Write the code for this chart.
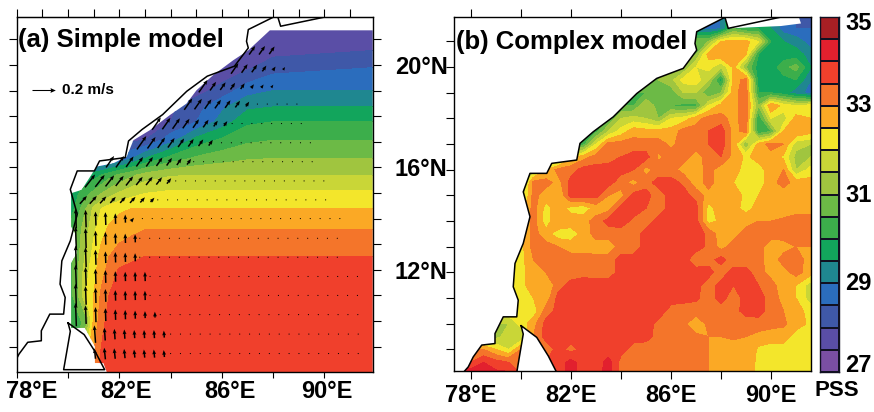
import numpy as np, seaborn as sns, matplotlib
matplotlib.use('Agg')
import matplotlib.pyplot as plt
from matplotlib.colors import ListedColormap, BoundaryNorm
from matplotlib.patches import Polygon

sns.set_style('white')
plt.rcParams['font.family'] = ['Liberation Sans', 'DejaVu Sans']
plt.rcParams['font.weight'] = 'bold'
plt.rcParams['text.color'] = 'k'
plt.rcParams['xtick.color'] = 'k'
plt.rcParams['ytick.color'] = 'k'

# colour scale, PSS
levels = [27, 27.5, 28, 28.5, 29, 29.5, 30, 30.5, 31, 31.5, 32, 32.5, 33, 33.5, 34, 34.5, 35]
colors = ['#7a4fa3', '#5a4ea6', '#3f58a8', '#2b6dbd', '#1f8790', '#12a55c', '#3cae4b', '#6cba46',
          '#a0c53f', '#c9d637', '#f3e62b', '#fba925', '#f4752a', '#f0402c', '#e2202e', '#a81f24']
cbar_labels = [35, 33, 31, 29, 27]

# coast shared by both panels
coast_lon = [90.36, 88.29, 88.16, 87.03, 86.96, 87.03, 86.49, 85.43, 84.63, 83.69, 82.89, 82.36, 82.23,
             81.23, 81.03, 80.36, 80.09, 80.36, 80.09, 79.76, 79.69, 79.89, 79.83, 79.29, 78.96, 78.96,
             78.43, 78.09, 77.89, 77.69]
coast_lat = [21.94, 21.51, 21.94, 21.38, 20.92, 20.66, 19.95, 19.56, 18.97, 18.06, 17.48, 17.03, 16.38,
             16.25, 15.86, 15.86, 15.14, 14.17, 13.13, 12.35, 11.44, 10.92, 10.27, 10.27, 9.62, 9.23,
             9.17, 8.71, 8.32, 8.1]
lanka_lon = [80.0, 80.63, 81.09, 81.43, 79.83, 80.09, 80.0]
lanka_lat = [9.93, 9.47, 8.75, 8.1, 8.1, 9.6, 9.93]
# unfilled sea under the head of the bay in (b)
mouth_lon = [88.29, 90.4, 91.2, 91.1, 90.36]
mouth_lat = [21.51, 21.6, 21.7, 22, 21.94]

# (a) simple model, salinity on a stretched grid
a_lon = [80.1, 80.4, 80.7, 81, 81.3, 81.6, 82, 82.5, 83, 84, 85, 86, 87, 88, 92]
a_lat = [8, 10, 11, 12, 12.52, 13.56, 14.4, 15.1, 15.7, 16.35, 17.06, 17.78, 18.36, 19, 19.9, 20.57, 21.35, 21.9]
a_sal = [
    [30.3, 30.6, 32.6, 33.2, 33.7, 33.8, 33.8, 33.8, 33.8, 33.8, 33.8, 33.8, 33.8, 33.8, 33.8],
    [30.3, 30.3, 30.8, 32.6, 33.3, 33.7, 33.8, 33.8, 33.8, 33.8, 33.8, 33.8, 33.8, 33.8, 33.8],
    [30.3, 31.0, 32.0, 32.5, 33.1, 33.5, 33.7, 33.8, 33.8, 33.8, 33.8, 33.8, 33.8, 33.8, 33.8],
    [30.3, 31.0, 31.8, 32.3, 32.8, 33.15, 33.55, 33.7, 33.75, 33.8, 33.8, 33.8, 33.8, 33.8, 33.8],
    [30.3, 30.9, 31.6, 32.2, 32.7, 33.0, 33.2, 33.35, 33.5, 33.5, 33.5, 33.5, 33.5, 33.5, 33.5],
    [30.3, 30.8, 31.3, 31.9, 32.3, 32.6, 32.8, 32.9, 33.0, 33.0, 33.0, 33.0, 33.0, 33.0, 33.0],
    [29.7, 30.3, 31.0, 31.6, 32.0, 32.2, 32.4, 32.5, 32.5, 32.5, 32.5, 32.5, 32.5, 32.5, 32.5],
    [29.6, 29.9, 30.2, 30.5, 30.8, 31.1, 31.4, 31.7, 31.9, 32.0, 32.0, 32.0, 32.0, 32.0, 32.0],
    [29.0, 29.2, 29.5, 29.8, 30.0, 30.3, 30.6, 30.9, 31.2, 31.45, 31.5, 31.5, 31.5, 31.5, 31.5],
    [28.0, 28.0, 28.0, 28.0, 28.0, 28.2, 28.5, 29.0, 29.5, 30.2, 30.6, 30.8, 30.95, 31.0, 31.0],
    [27.9, 27.9, 27.9, 27.9, 27.9, 27.9, 27.9, 27.9, 28.0, 28.8, 29.7, 30.1, 30.4, 30.5, 30.5],
    [27.8, 27.8, 27.8, 27.8, 27.8, 27.8, 27.8, 27.8, 27.8, 28.0, 28.5, 29.2, 29.9, 30.0, 30.0],
    [27.8, 27.8, 27.8, 27.8, 27.8, 27.8, 27.8, 27.8, 27.8, 27.9, 28.3, 28.9, 29.4, 29.5, 29.5],
    [27.8, 27.8, 27.8, 27.8, 27.8, 27.8, 27.8, 27.8, 27.8, 27.8, 27.8, 28.2, 28.8, 29.0, 29.0],
    [27.6, 27.6, 27.6, 27.6, 27.6, 27.6, 27.6, 27.6, 27.6, 27.6, 27.6, 27.6, 27.9, 28.3, 28.5],
    [27.6, 27.6, 27.6, 27.6, 27.6, 27.6, 27.6, 27.6, 27.6, 27.6, 27.6, 27.6, 27.6, 27.8, 28.0],
    [27.6, 27.6, 27.6, 27.6, 27.6, 27.6, 27.6, 27.6, 27.6, 27.6, 27.6, 27.6, 27.6, 27.6, 27.6],
    [27.5, 27.5, 27.5, 27.5, 27.5, 27.5, 27.5, 27.5, 27.5, 27.5, 27.5, 27.5, 27.5, 27.5, 27.5],
]
# edge of the coloured model domain in (a)
domain_lon = [91.88, 87.87, 87.03, 86.44, 85.66, 85.01, 84.62, 83.97, 83.19, 82.55, 82.29, 81.77, 81.12, 80.53,
              80.12, 80.12, 80.27, 80.34, 80.12, 80.12, 80.66, 81.05, 81.05, 81.38, 81.51, 91.88]
domain_lat = [21.35, 21.35, 20.57, 20.18, 19.6, 19.01, 18.49, 18.04, 17.45, 17.06, 16.42, 16.16, 16.03, 15.12,
              14.99, 13.69, 13.43, 12.65, 12.26, 9.73, 9.73, 9.01, 8.36, 8.36, 8.01, 8.01]

# (a) currents: one entry per run of arrows, speed in m/s, heading in degrees from east
arrow_spacing = 0.385
arrow_lat = [20.57, 19.86, 19.17, 18.47, 17.71, 16.96, 16.22, 15.47, 14.73, 14.0, 14.0, 13.23, 12.49, 11.74, 11.0,
             10.25, 9.49, 8.73]
arrow_lon0 = [87.18, 86.5, 85.27, 84.69, 83.45, 82.87, 81.64, 80.86, 80.6, 80.31, 82.48, 80.31, 80.31, 80.31, 80.31,
              80.31, 81.05, 81.05]
arrow_heading = [55, 55, 55, 55, 55, 55, 55, 52, 48, 92, 50, 92, 92, 92, 92, 92, 94, 96]
arrow_speed = [
    [.09, .09, .08],
    [.11, .09, .08, .06, .04, .03],
    [.13, .09, .08, .07, .06, .04, .035, .03],
    [.12, .11, .10, .09, .08, .07, .05],
    [.13, .12, .11, .10, .09, .08, .06, .05],
    [.14, .12, .11, .10, .09, .08, .07, .06],
    [.12, .12, .11, .10, .10, .09, .08, .07, .06],
    [.14, .13, .12, .11, .10, .09, .09, .08, .06],
    [.09, .09, .08, .07, .07, .07, .06, .05],
    [.17, .15, .12, .11, .09, .07],
    [.04],
    [.20, .17, .13, .11, .09, .08, .07],
    [.20, .17, .13, .10, .09, .08, .07],
    [.20, .16, .13, .11, .09, .08, .08, .08],
    [.20, .16, .13, .11, .09, .08, .08, .08],
    [.20, .16, .13, .11, .09, .08, .07, .06, .05],
    [.15, .11, .09, .08, .07, .07, .07, .06],
    [.09, .10, .09, .08, .07, .07, .07, .06],
]
# rows of near-still vectors east of the arrows (first and last longitude)
dot_lat = [18.47, 17.71, 16.96, 16.22, 15.47, 14.73, 14.0, 13.23, 12.49, 11.74, 11.0, 10.25, 9.49, 8.73]
dot_lon0 = [87.0, 86.4, 85.6, 84.9, 84.2, 83.5, 82.9, 82.8, 82.8, 83.2, 83.2, 83.6, 84.0, 84.0]
dot_lon1 = [89.0, 89.3, 89.7, 89.8, 90.1, 90.4, 90.8, 90.8, 90.8, 91.6, 91.6, 91.6, 91.6, 91.6]
dot_speed = 0.007

# (b) complex model, land cells only repeat the nearest sea value and get covered
b_lon = [77.3, 78, 78.5, 79, 79.5, 80, 80.5, 81, 81.5, 82, 82.5, 83, 83.5, 84, 84.5, 85, 85.5, 86, 86.5, 87, 87.5,
         88, 88.5, 89, 89.5, 90, 90.5, 91, 91.6]
b_lat = [22, 21.5, 21, 20.5, 20, 19.5, 19, 18.5, 18, 17.5, 17, 16.5, 16, 15.5, 15, 14.5, 14, 13.5, 13, 12.5, 12,
         11.5, 11, 10.5, 10, 9.5, 9, 8.5, 8]
b_sal = [
    [29] * 20 + [28.75, 29, 30.5, 30, 30, 29.5, 28.75, 28.5, 28.5],
    [29] * 20 + [28.75, 29, 30.5, 30, 30, 29.5, 28.75, 28.5, 28.5],
    [31] * 19 + [31, 31, 32.5, 32.7, 32.7, 32, 30, 29.5, 29.3, 28.7],
    [31] * 19 + [31, 32.7, 33, 32.7, 32.5, 30, 29.7, 29.7, 29.7, 29.3],
    [31] * 18 + [31, 32, 32.2, 31.5, 32.6, 31, 29.7, 29.7, 30.3, 30.7, 29.5],
    [31] * 16 + [31, 31.3, 32.2, 32.3, 31.5, 29.7, 32.7, 33.2, 29.7, 29.7, 29.8, 30, 29],
    [30.5] * 15 + [30.5, 31, 30.7, 31.5, 31.5, 30.5, 31, 32.8, 33.3, 30, 30, 29.7, 29.2, 28.8],
    [30.5] * 14 + [30.5, 31.5, 30.7, 30.5, 30.3, 30.3, 32, 32.7, 32.8, 33.3, 31, 33, 32.3, 32, 32.2],
    [30.5] * 12 + [30.5, 31.5, 31.7, 31.5, 31, 32, 32.2, 32.8, 33.2, 33.2, 32.8, 33.3, 30, 32, 31.7, 32.7, 32.5],
    [30] * 11 + [30.3, 31.5, 32.2, 32.8, 32.7, 32.7, 32.7, 33.2, 33.2, 33.5, 33.8, 32.8, 33.2, 30, 30.5, 32.5, 33, 32.7],
    [30.3] * 10 + [30.3, 32, 33.2, 33.2, 33.2, 33.2, 33.2, 32.9, 33.2, 33.2, 33.5, 33.8, 32.8, 31, 32.7, 33.2, 33, 31.7, 31.5],
    [31] * 8 + [31, 32.3, 32.8, 33.2, 33.3, 33.5, 33.7, 33.7, 32.9, 33.2, 33.2, 32.8, 33.2, 33.5, 32.8, 32.4, 32.7, 32.8, 32.4, 31.3, 31.5],
    [31] * 6 + [31.5, 32.5, 33.2, 33.3, 33.7, 33.7, 33.7, 33.7, 33.5, 32.8, 33.2, 33.2, 32.8, 32.7, 33.2, 32.7, 32.8, 32.2, 32.3, 32.7, 33, 31.5, 32.2],
    [31.2] * 5 + [31.2, 33.2, 33.2, 32.8, 33.7, 33.7, 33.7, 33.7, 33.2, 32.8, 33.3, 33.7, 33.7, 33.4, 32.7, 33.2, 32.7, 32.5, 32.3, 32.2, 32.8, 33.2, 32.8, 32.7],
    [31.2] * 5 + [31.5, 33.2, 32.7, 32.5, 33.7, 33.7, 33.7, 33, 32.8, 33.7, 33.7, 33.2, 33.7, 33.7, 33.3, 32.8, 33, 32.7, 32.4, 32.5, 32.7, 32.7, 32.8, 32.7],
    [32] * 5 + [32.2, 33.2, 32.3, 32.8, 32.3, 32.2, 32.7, 32.8, 33.7, 33.7, 33.5, 33.2, 33.7, 33.7, 33.7, 32.3, 32.8, 32.7, 32.3, 32.7, 32.7, 32.7, 32.8, 32.8],
    [32] * 5 + [32.3, 33.2, 32.2, 33, 32.8, 32.8, 33.2, 33.7, 33.7, 33.4, 33.2, 33.7, 33.7, 33.7, 33.7, 32.3, 32.6, 32.8, 32.8, 33, 33, 33.1, 33.2, 33.2],
    [32.2] * 5 + [32.3, 33.2, 32.7, 32.2, 32.2, 32.7, 33.2, 33.2, 33.3, 33.2, 33.7, 33.7, 33.7, 33.7, 33.7, 33.4, 32.7, 32.8, 33.2, 33.2, 33.2, 33.2, 33.2, 33.2],
    [32.2] * 5 + [32.3, 33.2, 33.2, 33, 32.8, 32.8, 32.7, 32.7, 33.2, 33.2, 33.7, 33.7, 33.7, 33.7, 33.7, 33.4, 32.8, 33.2, 33.2, 33.2, 32.7, 32.8, 33, 33],
    [32.2] * 5 + [32.3, 33, 33.2, 33.2, 33.2, 33.2, 33.2, 33.2, 33.7, 33.7, 33.7, 33.7, 33.7, 33.7, 33.2, 33.3, 33.7, 33.2, 33.2, 33.2, 32.7, 33.2, 33.2, 32.8],
    [32.2] * 5 + [32.2, 33, 33, 33.2, 33.2, 33.3, 33.2, 33.2, 33.7, 33.7, 33.7, 33.7, 33.7, 33.7, 33.7, 33.7, 33.2, 33.7, 33.7, 33.2, 32.8, 32.8, 33.2, 32.7],
    [32.2] * 5 + [32.2, 33, 32.5, 33.3, 33.7] + [33.8] * 8 + [33.7, 33.7, 33.2, 33.7, 33.5, 33.7, 33.5, 33.2, 32.7, 32.5, 31.7],
    [32.3] * 5 + [32.3, 32.5, 32.7, 33.7] + [33.8] * 8 + [33.7, 33.7, 33.6, 33.2, 33.7, 33.2, 33.7, 33.7, 33.3, 32.8, 32.5, 31.7],
    [32.3] * 5 + [32.3, 32.2, 33.2, 33.7] + [33.8] * 8 + [33.3, 33.2, 33.2, 33.2, 33.2, 33.3, 33.7, 33.7, 33.3, 33, 32.7, 32.3],
    [31.5] * 5 + [32.2, 32.8, 33.7] + [33.8] * 8 + [33.3, 33.1, 33.1, 32.7, 33.1, 33.2, 33.2, 33.2, 33.3, 33.2, 33.1, 32.7, 32.4],
    [31.3] * 4 + [31.8, 31.5, 33] + [33.7] * 9 + [33.3, 33.1, 33.2, 33.1, 33, 33, 33.1, 33, 32.8, 32.7, 32.7, 32.3, 32.2],
    [33, 33, 33, 32.5, 32, 33, 33, 33.2, 33.7, 33.3, 33.7, 33.7, 33.7, 33.7, 33.3, 33.2, 33.1, 33.1, 33.1, 33.1, 33, 32.6, 32.7, 33, 32.4, 32.3, 32.3, 32.3, 32.3],
    [33.5, 33.5, 34, 33.7, 33.5, 33.5, 33.5, 33.5, 33.7, 34.2, 33.7, 33.7, 34.2, 33.3, 33.2, 33.2, 33.1, 33.1, 33.1, 33.1, 33, 32.7, 32.6, 33, 32.3, 32.2, 32.3, 32.3, 32.2],
    [34.5, 34.5, 34.5, 34.2, 34.2, 33.5, 33.5, 33.5, 33.7, 34.2, 33.8, 33.8, 34.2, 33.3, 33.2, 33.2, 33.1, 33.1, 33.1, 33.1, 33, 32.7, 32.6, 33, 32.3, 32.2, 32.3, 32.3, 32.2],
]

cmap = ListedColormap(colors)
norm = BoundaryNorm(levels, cmap.N)
W, H = 874, 412
LABEL = 17


def px_axes(fig, x0, y0, x1, y1):
    return fig.add_axes([x0 / W, 1 - y1 / H, (x1 - x0) / W, (y1 - y0) / H])


def draw_coast(ax, xleft):
    ax.plot(coast_lon + [xleft], coast_lat + [coast_lat[-1]], color='k', lw=1.1, zorder=4)
    ax.plot(lanka_lon, lanka_lat, color='k', lw=1.1, zorder=4)


fig = plt.figure(figsize=(W / 100, H / 100), dpi=100)

# panel a
ax = px_axes(fig, 16.7, 17, 372.7, 372)
cs = ax.contourf(a_lon, a_lat, np.array(a_sal), levels=levels, cmap=cmap, norm=norm)
cs.set_clip_path(Polygon(np.c_[domain_lon, domain_lat], transform=ax.transData))
ax.set_xlim(78, 91.88)
ax.set_ylim(8.01, 21.87)
draw_coast(ax, 78)

for la, lo, sp, hd in zip(arrow_lat, arrow_lon0, arrow_speed, arrow_heading):
    sp = np.array(sp)
    lons = lo + arrow_spacing * np.arange(len(sp))
    ang = np.deg2rad(hd)
    ax.quiver(lons, np.full(len(sp), la), sp * np.cos(ang), sp * np.sin(ang), angles='uv', scale_units='xy',
              scale=0.22, pivot='mid', width=0.0042, headwidth=2.6, headlength=3.2, headaxislength=2.9,
              color='k', zorder=5)
for la, l0, l1 in zip(dot_lat, dot_lon0, dot_lon1):
    lons = np.arange(l0, l1, arrow_spacing)
    ax.quiver(lons, np.full(len(lons), la), np.zeros(len(lons)), np.full(len(lons), dot_speed), angles='uv',
              scale_units='xy', scale=0.22, pivot='mid', width=0.0035, headwidth=2, headlength=2, headaxislength=2,
              color='k', zorder=5)
# reference arrow
ax.quiver([78.58], [19.01], [0.2], [0], angles='uv', scale_units='xy', scale=0.22, pivot='tail', width=0.003,
          headwidth=4.5, headlength=5, headaxislength=4.5, color='k', zorder=5)
ax.text(79.75, 19.01, '0.2 m/s', fontsize=11, va='center', ha='left')
ax.text(0.003, 0.968, '(a) Simple model', transform=ax.transAxes, fontsize=18.5, va='top', ha='left', zorder=6)

ax.set_xticks([78, 80, 82, 84, 86, 88, 90])
ax.set_xticklabels([])
top = ax.secondary_xaxis('top')
top.set_xticks(np.arange(78, 92))
top.set_xticklabels([])
top.tick_params(length=6, width=0.8, direction='out')
ax.set_yticks(np.arange(9, 22))
ax.set_yticklabels(['20°N' if v == 20 else '16°N' if v == 16 else '12°N' if v == 12 else '' for v in np.arange(9, 22)])
ax.tick_params(axis='y', left=True, right=True, labelleft=False, labelright=True, length=6, width=0.8,
               direction='out', labelsize=LABEL, pad=10)
ax.tick_params(axis='x', bottom=True, length=4, width=0.8, direction='out')
for lab, lon in zip(['78°E', '82°E', '86°E', '90°E'], [78.6, 82.25, 86.3, 90.1]):
    ax.text(lon, -0.054, lab, transform=ax.get_xaxis_transform(), fontsize=LABEL, ha='center', va='center')

# panel b
bx = px_axes(fig, 454, 17.3, 810.7, 371)
bx.contourf(b_lon, b_lat, np.array(b_sal), levels=levels, cmap=cmap, norm=norm, zorder=1)
bx.set_xlim(77.32, 91.59)
bx.set_ylim(8.16, 21.94)
land_lon = coast_lon + [77.32, 77.32, 90.36]
land_lat = coast_lat + [8.1, 22, 22]
for plon, plat in [(land_lon, land_lat), (lanka_lon, lanka_lat), (mouth_lon, mouth_lat)]:
    bx.add_patch(Polygon(np.c_[plon, plat], facecolor='white', edgecolor='none', zorder=2))
draw_coast(bx, 77.32)
bx.text(0.005, 0.965, '(b) Complex model', transform=bx.transAxes, fontsize=18.5, va='top', ha='left', zorder=6)
bx.set_xticks(np.arange(78, 92, 2))
bx.set_xticklabels(['78°E', '', '82°E', '', '86°E', '', '90°E'])
bx.tick_params(axis='x', bottom=True, top=True, length=6, width=0.8, direction='out', labelsize=LABEL, pad=3)
bx.set_yticks(np.arange(9, 22))
bx.set_yticklabels([])
bx.tick_params(axis='y', left=True, length=6, width=0.8, direction='out')

for a in (ax, bx):
    for s in a.spines.values():
        s.set_visible(True)
        s.set_color('k')
        s.set_linewidth(1)

# colour bar, drawn as a one-column heatmap
cx = px_axes(fig, 820, 17, 839, 372)
mid = (np.array(levels[:-1]) + np.array(levels[1:])) / 2
sns.heatmap(mid[::-1].reshape(-1, 1), ax=cx, cmap=cmap, norm=norm, cbar=False, linewidths=1.1, linecolor='#111122',
            xticklabels=False, yticklabels=False)
for s in cx.spines.values():
    s.set_visible(True)
    s.set_color('#111122')
    s.set_linewidth(1)
for val, y in zip(cbar_labels, [23, 105, 195, 283, 365]):
    fig.text(845 / W, 1 - y / H, str(val), fontsize=LABEL, ha='left', va='center')
fig.text(837 / W, 1 - 390 / H, 'PSS', fontsize=16, ha='center', va='center')

fig.savefig('out.png', dpi=100)
